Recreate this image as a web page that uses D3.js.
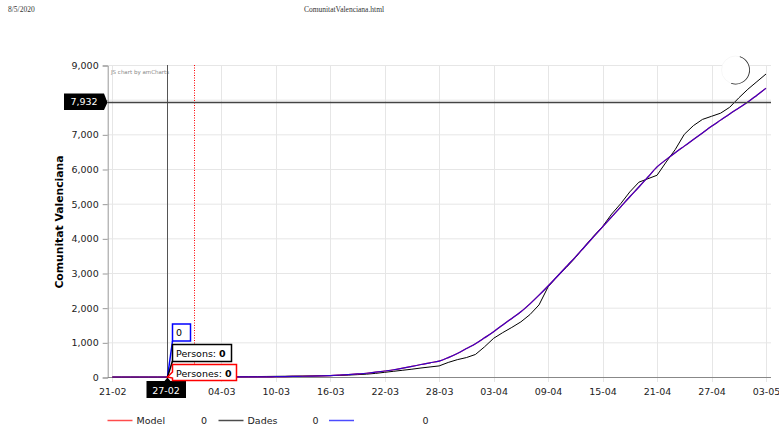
<!DOCTYPE html>
<html><head><meta charset="utf-8">
<script src="https://cdn.jsdelivr.net/npm/d3@7"></script>
<style>body{margin:0;background:#fff}svg{display:block}text{font-family:"DejaVu Sans",Verdana,sans-serif}</style>
</head><body><svg id="c" width="779" height="432"></svg>
<script>
const startDate = "2020-02-21";
const endDate = "2020-05-03";
const xTickLabels = ["21-02","27-02","04-03","10-03","16-03","22-03","28-03","03-04","09-04","15-04","21-04","27-04","03-05"];
const yTickValues = [0,1000,2000,3000,4000,5000,6000,7000,8000,9000];
const modelValues = [0,0,0,0,0,0,0,0,0,0,0,0,0,0,1,2,3,5,8,12,16,21,27,34,42,55,70,88,108,138,173,210,255,305,360,410,460,560,680,820,960,1130,1307,1500,1690,1880,2110,2360,2625,2900,3180,3460,3750,4040,4330,4620,4910,5200,5480,5770,6060,6270,6470,6660,6850,7040,7230,7410,7590,7760,7932,8130,8330];
const dadesValues = [0,0,0,0,0,0,0,1,1,2,3,4,5,7,9,11,13,16,19,22,25,28,31,35,40,45,55,68,82,105,135,165,195,225,260,290,320,420,500,560,650,870,1116,1280,1430,1590,1800,2080,2600,2900,3160,3440,3760,4060,4340,4700,5000,5340,5620,5720,5820,6200,6560,7000,7250,7430,7520,7610,7780,8050,8300,8520,8740];
const serie3Values = modelValues;
const legendNames = ["Model","Dades",""];
const cursorDate = "2020-02-27";
const guideDate = "2020-03-01";
const cursorValue = 7932;

const parse = d3.utcParse("%Y-%m-%d");
const dates = d3.utcDay.range(parse(startDate), d3.utcDay.offset(parse(endDate),1));
const svg = d3.select("#c");
svg.append("rect").attr("width",779).attr("height",432).attr("fill","#fff");

// header
svg.append("text").attr("x",8).attr("y",12).text("8/5/2020").style("font-family","'Liberation Serif',serif").style("font-size","7.5px").attr("fill","#333");
svg.append("text").attr("x",344).attr("y",12).attr("text-anchor","middle").text("ComunitatValenciana.html").style("font-family","'Liberation Serif',serif").style("font-size","7.5px").attr("fill","#333");

const x = d3.scaleUtc().domain([parse(startDate), parse(endDate)]).range([112.3, 766]);
const y = d3.scaleLinear().domain([0,9000]).range([377, 65]);
const L = 107.7, R = 771;
const tickDates = d3.range(xTickLabels.length).map(i=>d3.utcDay.offset(parse(startDate), i*6));

// grid
const g = svg.append("g");
g.selectAll(".hg").data(yTickValues).join("line")
  .attr("x1",L).attr("x2",R).attr("y1",d=>y(d)+0.5).attr("y2",d=>y(d)+0.5).attr("stroke","#e6e6e6");
g.selectAll(".vg").data(tickDates).join("line")
  .attr("x1",d=>Math.round(x(d))+0.5).attr("x2",d=>Math.round(x(d))+0.5).attr("y1",65).attr("y2",382).attr("stroke","#e6e6e6");

// y axis
const yAxis = d3.axisLeft(y).tickValues(yTickValues).tickSize(5).tickFormat(d3.format(","));
const ya = svg.append("g").attr("transform",`translate(${L},0.5)`).call(yAxis);
ya.select(".domain").attr("stroke","#999");
ya.selectAll(".tick line").attr("stroke","#999");
ya.selectAll(".tick text").attr("x",-9).attr("fill","#222").style("font-size","9.5px").style("font-family","'DejaVu Sans',sans-serif");

// x axis (the cursor balloon covers the 27-02 tick label, so that one is not drawn)
const xAxis = d3.axisBottom(x).tickValues(tickDates).tickSize(0).tickFormat((d,i)=>xTickLabels[i]);
const xa = svg.append("g").attr("transform",`translate(0,377.5)`).call(xAxis);
xa.select(".domain").remove();
svg.append("line").attr("x1",L).attr("x2",R).attr("y1",377.5).attr("y2",377.5).attr("stroke","#888");
xa.selectAll(".tick text").attr("y",11).attr("fill","#222").style("font-size","9.5px").style("font-family","'DejaVu Sans',sans-serif");
xa.selectAll(".tick").filter(d=>+d === +parse(cursorDate)).select("text").remove();

// y title
svg.append("text").attr("transform","translate(63,222) rotate(-90)").attr("text-anchor","middle")
  .style("font-size","10.8px").style("font-weight","bold").attr("fill","#000").text("Comunitat Valenciana");

svg.append("text").attr("x",111).attr("y",74).style("font-size","5.5px").attr("fill","#888").text("JS chart by amCharts");

// guide line
svg.append("line").attr("x1",Math.round(x(parse(guideDate)))+0.5).attr("x2",Math.round(x(parse(guideDate)))+0.5).attr("y1",65).attr("y2",377)
  .attr("stroke","#ff0000").attr("stroke-dasharray","1,1.5");

// series
const pts = vals => vals.map((v,i)=>[dates[i], v]);
const lineSmooth = d3.line().x(d=>x(d[0])).y(d=>y(d[1])).curve(d3.curveMonotoneX);
const lineLin = d3.line().x(d=>x(d[0])).y(d=>y(d[1]));
svg.append("path").attr("d",lineLin(pts(dadesValues))).attr("fill","none").attr("stroke","#000").attr("stroke-width",1);
svg.append("path").attr("d",lineSmooth(pts(modelValues))).attr("fill","none").attr("stroke","#ff0000").attr("stroke-width",1.2);
svg.append("path").attr("d",lineSmooth(pts(serie3Values))).attr("fill","none").attr("stroke","#0000ff").attr("stroke-width",1.2).attr("stroke-opacity",0.8);

// cursor
const cx = Math.round(x(parse(cursorDate)))+0.5;
svg.append("line").attr("x1",cx).attr("x2",cx).attr("y1",65).attr("y2",377).attr("stroke","#555");
const cy = Math.round(y(cursorValue))+0.5;
svg.append("line").attr("x1",L).attr("x2",R).attr("y1",cy).attr("y2",cy).attr("stroke","#444").attr("stroke-width",1.6);

// y balloon
svg.append("path").attr("d",`M64,93.5 H104 L107.5,${cy} L104,110 H64 Z`).attr("fill","#000");
svg.append("text").attr("x",84).attr("y",105).attr("text-anchor","middle").attr("fill","#fff").style("font-size","9.5px").text(d3.format(",")(cursorValue));

// x balloon
svg.append("path").attr("d",`M146.5,381 H${cx-3} L${cx},377.5 L${cx+3},381 H186 V398 H146.5 Z`).attr("fill","#000");
svg.append("text").attr("x",166).attr("y",393.5).attr("text-anchor","middle").attr("fill","#fff").style("font-size","9.5px").text("27-02");

// point tooltips
const py = y(0);
svg.append("line").attr("x1",cx).attr("y1",py).attr("x2",172.5).attr("y2",341).attr("stroke","#0000ff").attr("stroke-width",1.5);
svg.append("line").attr("x1",cx).attr("y1",py).attr("x2",172.5).attr("y2",361).attr("stroke","#000").attr("stroke-width",1.5);
svg.append("rect").attr("x",172.5).attr("y",324).attr("width",18).attr("height",17).attr("fill","#fff").attr("stroke","#0000ff").attr("stroke-width",1.5);
svg.append("text").attr("x",176).attr("y",336).style("font-size","9.5px").attr("fill","#000").text("0");
svg.append("rect").attr("x",172.5).attr("y",344.5).attr("width",59).attr("height",17).attr("fill","#fff").attr("stroke","#000").attr("stroke-width",1.5);
const t1 = svg.append("text").attr("x",176).attr("y",356.5).style("font-size","9.5px").attr("fill","#000");
t1.append("tspan").text("Persons: "); t1.append("tspan").style("font-weight","bold").text("0");
svg.append("path").attr("d",`M172.5,364.5 H236.5 V380.5 H172.5 V378 L${cx},${py} L172.5,372 Z`).attr("fill","#fff").attr("stroke","#ff0000").attr("stroke-width",1.5);
const t2 = svg.append("text").attr("x",176).attr("y",376.5).style("font-size","9.5px").attr("fill","#000");
t2.append("tspan").text("Persones: "); t2.append("tspan").style("font-weight","bold").text("0");

// zoom-out circle
svg.append("circle").attr("cx",735.5).attr("cy",70).attr("r",14).attr("fill","#fff").attr("stroke","#eee").attr("stroke-width",0.5);
const arc = d3.arc().innerRadius(13.6).outerRadius(14.4).startAngle(Math.PI*0.1).endAngle(Math.PI*1.1);
svg.append("path").attr("transform","translate(735.5,70)").attr("d",arc()).attr("fill","#222");

// legend
const legColors = ["#ff0000","#000","#0000ff"];
const legX = [107.5, 218.5, 329];
const legValX = [201, 312.5, 422.5];
legendNames.forEach((n,i)=>{
  svg.append("line").attr("x1",legX[i]).attr("x2",legX[i]+25).attr("y1",420.5).attr("y2",420.5).attr("stroke",legColors[i]).attr("stroke-opacity",0.7).attr("stroke-width",1.5);
  svg.append("text").attr("x",legX[i]+29).attr("y",424).style("font-size","9.5px").attr("fill","#222").text(n);
  svg.append("text").attr("x",legValX[i]).attr("y",424).style("font-size","9.5px").attr("fill","#222").text("0");
});
</script></body></html>
